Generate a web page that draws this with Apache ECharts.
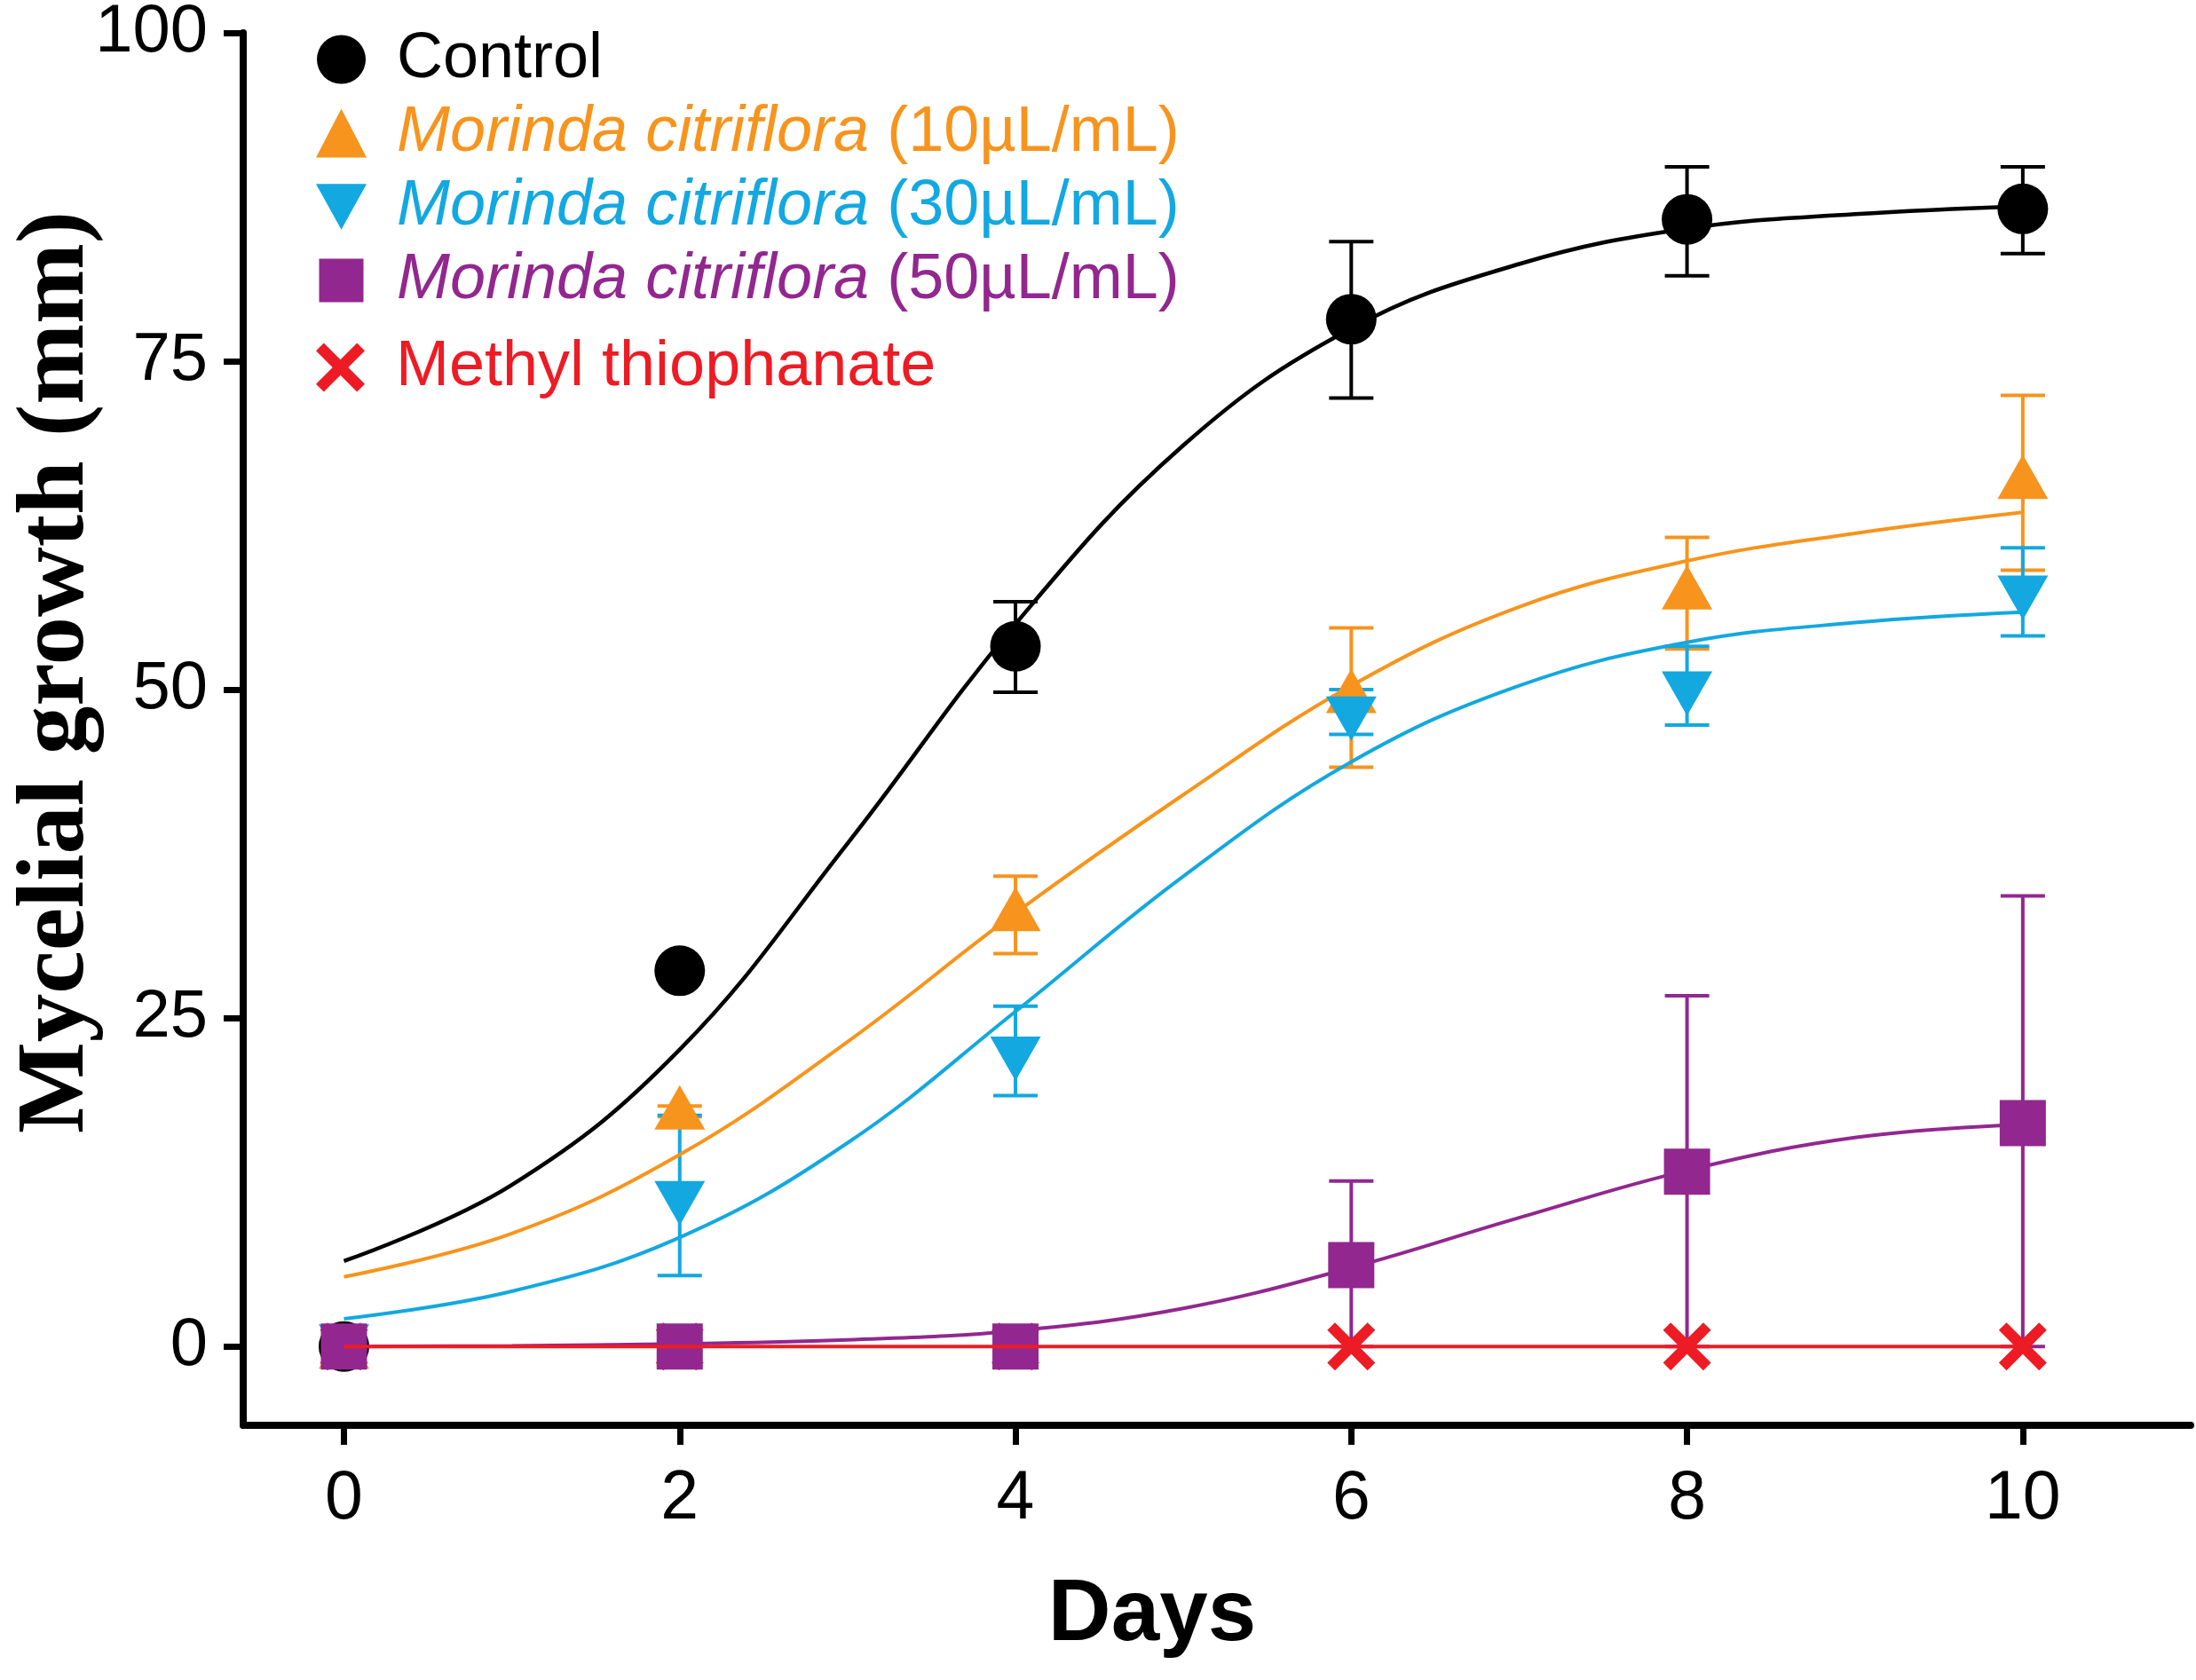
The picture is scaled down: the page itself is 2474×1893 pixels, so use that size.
<!DOCTYPE html>
<html>
<head>
<meta charset="utf-8">
<script src="https://cdn.jsdelivr.net/npm/echarts@6/dist/echarts.min.js"></script>
<style>
  html, body { margin: 0; padding: 0; background: #fff; }
  #chart { width: 2474px; height: 1893px; }
</style>
</head>
<body>
<div id="chart"></div>
<script>
// Sampling days of the measurements
var days = [0, 2, 4, 6, 8, 10];
var fitDays = [0, 1, 2, 3, 4, 5, 6, 7, 8, 9, 10];

var seriesNames = [
  'Control',
  'Morinda citriflora (10µL/mL)',
  'Morinda citriflora (30µL/mL)',
  'Morinda citriflora (50µL/mL)',
  'Methyl thiophanate'
];
var colors = ['#000000', '#F7941D', '#13A8E0', '#92278F', '#ED1C24'];

// Mean mycelial growth (mm)
var controlMean = [0, 28.6, 53.3, 78.2, 85.8, 86.6];
var mc10Mean = [0, 18.2, 33.3, 49.9, 57.8, 66.2];
var mc30Mean = [0, 10.9, 21.9, 47.8, 49.7, 57.0];
var mc50Mean = [0, 0, 0, 6.2, 13.3, 17.0];
var methylMean = [0, 0, 0, 0, 0, 0];

// Error bar ends (low / high)
var controlLow = [0, 28.6, 49.8, 72.2, 81.5, 83.2];
var controlHigh = [0, 28.6, 56.7, 84.1, 89.8, 89.8];
var mc10Low = [0, 17.5, 29.9, 44.1, 53.1, 59.1];
var mc10High = [0, 18.3, 35.8, 54.7, 61.6, 72.4];
var mc30Low = [0, 5.4, 19.1, 46.6, 47.3, 54.1];
var mc30High = [0, 17.6, 25.9, 50.0, 53.3, 60.8];
var mc50Low = [0, 0, 0, 0, 0, 0];
var mc50High = [0, 0, 0, 12.6, 26.7, 34.3];

// Fitted curves, read at each day
var controlFit = [6.5, 12.3, 22.6, 38.3, 55.0, 68.6, 77.5, 82.4, 85.1, 86.2, 86.8];
var mc10Fit = [5.3, 8.6, 14.6, 23.2, 33.0, 42.0, 50.3, 56.3, 59.8, 61.9, 63.5];
var mc30Fit = [2.1, 4.2, 8.3, 15.5, 25.5, 35.8, 44.5, 50.3, 53.6, 55.1, 55.9];
var mc50Fit = [0, 0.05, 0.2, 0.5, 1.2, 2.9, 6.0, 9.8, 13.4, 15.9, 16.9];
var methylFit = [0, 0, 0, 0, 0, 0, 0, 0, 0, 0, 0];

var xTicks = [0, 2, 4, 6, 8, 10];
var yTicks = [0, 25, 50, 75, 100];

var means = [controlMean, mc10Mean, mc30Mean, mc50Mean, methylMean];
var lows = [controlLow, mc10Low, mc30Low, mc50Low];
var highs = [controlHigh, mc10High, mc30High, mc50High];
var fits = [controlFit, mc10Fit, mc30Fit, mc50Fit, methylFit];

var sansFont = '"Liberation Sans", Arial, Helvetica, sans-serif';
var serifFont = '"Liberation Serif", "Times New Roman", serif';

var downTriangle = 'path://M0,0L10,0L5,9Z';
var cross = 'path://M0,1.6L1.6,0L5,3.4L8.4,0L10,1.6L6.6,5L10,8.4L8.4,10L5,6.6L1.6,10L0,8.4L3.4,5Z';
var symbols = ['circle', 'triangle', downTriangle, 'rect', cross];
var symbolSizes = [57, [57, 50], [57, 50], 52, 54];
var legendIcons = ['circle', 'triangle', downTriangle, 'path://M0,0M57,55M3.5,3L53.5,3L53.5,52L3.5,52Z', cross];

function pairs(xs, ys) {
  return xs.map(function (x, i) { return [x, ys[i]]; });
}

function renderErrorBar(params, api) {
  var x = api.value(0);
  var lo = api.value(1);
  var hi = api.value(2);
  if (hi === lo) {
    return null;
  }
  var top = api.coord([x, hi]);
  var bot = api.coord([x, lo]);
  var half = 25;
  var style = { stroke: api.visual('color'), lineWidth: 4 };
  return {
    type: 'group',
    children: [
      { type: 'line', shape: { x1: top[0], y1: top[1], x2: bot[0], y2: bot[1] }, style: style },
      { type: 'line', shape: { x1: top[0] - half, y1: top[1], x2: top[0] + half, y2: top[1] }, style: style },
      { type: 'line', shape: { x1: bot[0] - half, y1: bot[1], x2: bot[0] + half, y2: bot[1] }, style: style }
    ]
  };
}

// Legend text: species name in italics, dose upright, both in series colour
var legendRich = { s: { width: 29 } };
colors.forEach(function (c, i) {
  legendRich['i' + i] = { color: c, fontStyle: 'italic', fontSize: 72, fontFamily: sansFont };
  legendRich['n' + i] = { color: c, fontSize: 72, fontFamily: sansFont };
});

function legendLabel(name) {
  var i = seriesNames.indexOf(name);
  var m = name.match(/^(Morinda citriflora)( .*)$/);
  if (m) {
    return '{s|}{i' + i + '|' + m[1] + '}{n' + i + '|' + m[2] + '}';
  }
  return '{s|}{n' + i + '|' + name + '}';
}

function legendItems(from, to) {
  var out = [];
  for (var i = from; i < to; i++) {
    out.push({ name: seriesNames[i], icon: legendIcons[i], itemStyle: { color: colors[i] } });
  }
  return out;
}

var legendBase = {
  orient: 'vertical',
  left: 356,
  padding: 0,
  itemWidth: 57,
  itemHeight: 55,
  itemGap: 11,
  selectedMode: false,
  formatter: legendLabel,
  textStyle: { fontSize: 72, fontFamily: sansFont, rich: legendRich }
};

var series = [];

// markers (drawn above curves and bars)
var markerOrder = [0, 1, 2, 4, 3];
markerOrder.forEach(function (i) {
  series.push({
    name: seriesNames[i],
    type: 'scatter',
    z: 3,
    symbol: symbols[i],
    symbolSize: symbolSizes[i],
    itemStyle: { color: colors[i], opacity: 1 },
    data: pairs(days, means[i])
  });
});

// error bars
lows.forEach(function (lo, i) {
  series.push({
    name: seriesNames[i],
    type: 'custom',
    z: 2,
    itemStyle: { color: colors[i] },
    renderItem: renderErrorBar,
    encode: { x: 0, y: [1, 2] },
    data: days.map(function (d, k) { return [d, lo[k], highs[i][k]]; })
  });
});

// fitted curves
fits.forEach(function (f, i) {
  series.push({
    name: seriesNames[i],
    type: 'line',
    z: i === 4 ? 4 : 2,
    smooth: 0.4,
    showSymbol: false,
    symbol: 'none',
    lineStyle: { color: colors[i], width: i === 0 ? 4.5 : 4 },
    itemStyle: { color: colors[i] },
    data: pairs(fitDays, f)
  });
});

var chart = echarts.init(document.getElementById('chart'), null, {
  renderer: 'canvas',
  width: 2474,
  height: 1893
});

var option = {
  animation: false,
  backgroundColor: '#ffffff',
  grid: { left: 274, right: 6, top: 37, bottom: 287, containLabel: false, outerBoundsMode: 'none' },
  legend: [
    Object.assign({}, legendBase, { top: 31, data: legendItems(0, 4) }),
    Object.assign({}, legendBase, { top: 378, data: legendItems(4, 5) })
  ],
  xAxis: {
    type: 'value',
    min: -0.6,
    max: 11,
    name: 'Days',
    nameLocation: 'middle',
    nameGap: 166,
    nameMoveOverlap: false,
    nameTextStyle: {
      fontSize: 98,
      fontWeight: 'bold',
      fontFamily: sansFont,
      color: '#000',
      padding: [0, 146, 0, 0]
    },
    axisLine: { onZero: false, lineStyle: { color: '#000', width: 8 } },
    axisTick: { customValues: xTicks, length: 22, lineStyle: { color: '#000', width: 7 } },
    axisLabel: { customValues: xTicks, margin: 45, fontSize: 77, fontFamily: sansFont, color: '#000' },
    splitLine: { show: false }
  },
  yAxis: {
    type: 'value',
    min: -6,
    max: 100,
    name: 'Mycelial growth (mm)',
    nameLocation: 'middle',
    nameGap: 155,
    nameMoveOverlap: false,
    nameTextStyle: {
      fontSize: 109,
      fontWeight: 'bold',
      fontFamily: serifFont,
      color: '#000',
      padding: [0, 0, 0, 128]
    },
    axisLine: { onZero: false, lineStyle: { color: '#000', width: 8 } },
    axisTick: { customValues: yTicks, length: 22, lineStyle: { color: '#000', width: 7 } },
    axisLabel: { customValues: yTicks, margin: 40, fontSize: 76, fontFamily: sansFont, color: '#000' },
    splitLine: { show: false }
  },
  series: series
};

chart.setOption(option);
</script>
</body>
</html>
